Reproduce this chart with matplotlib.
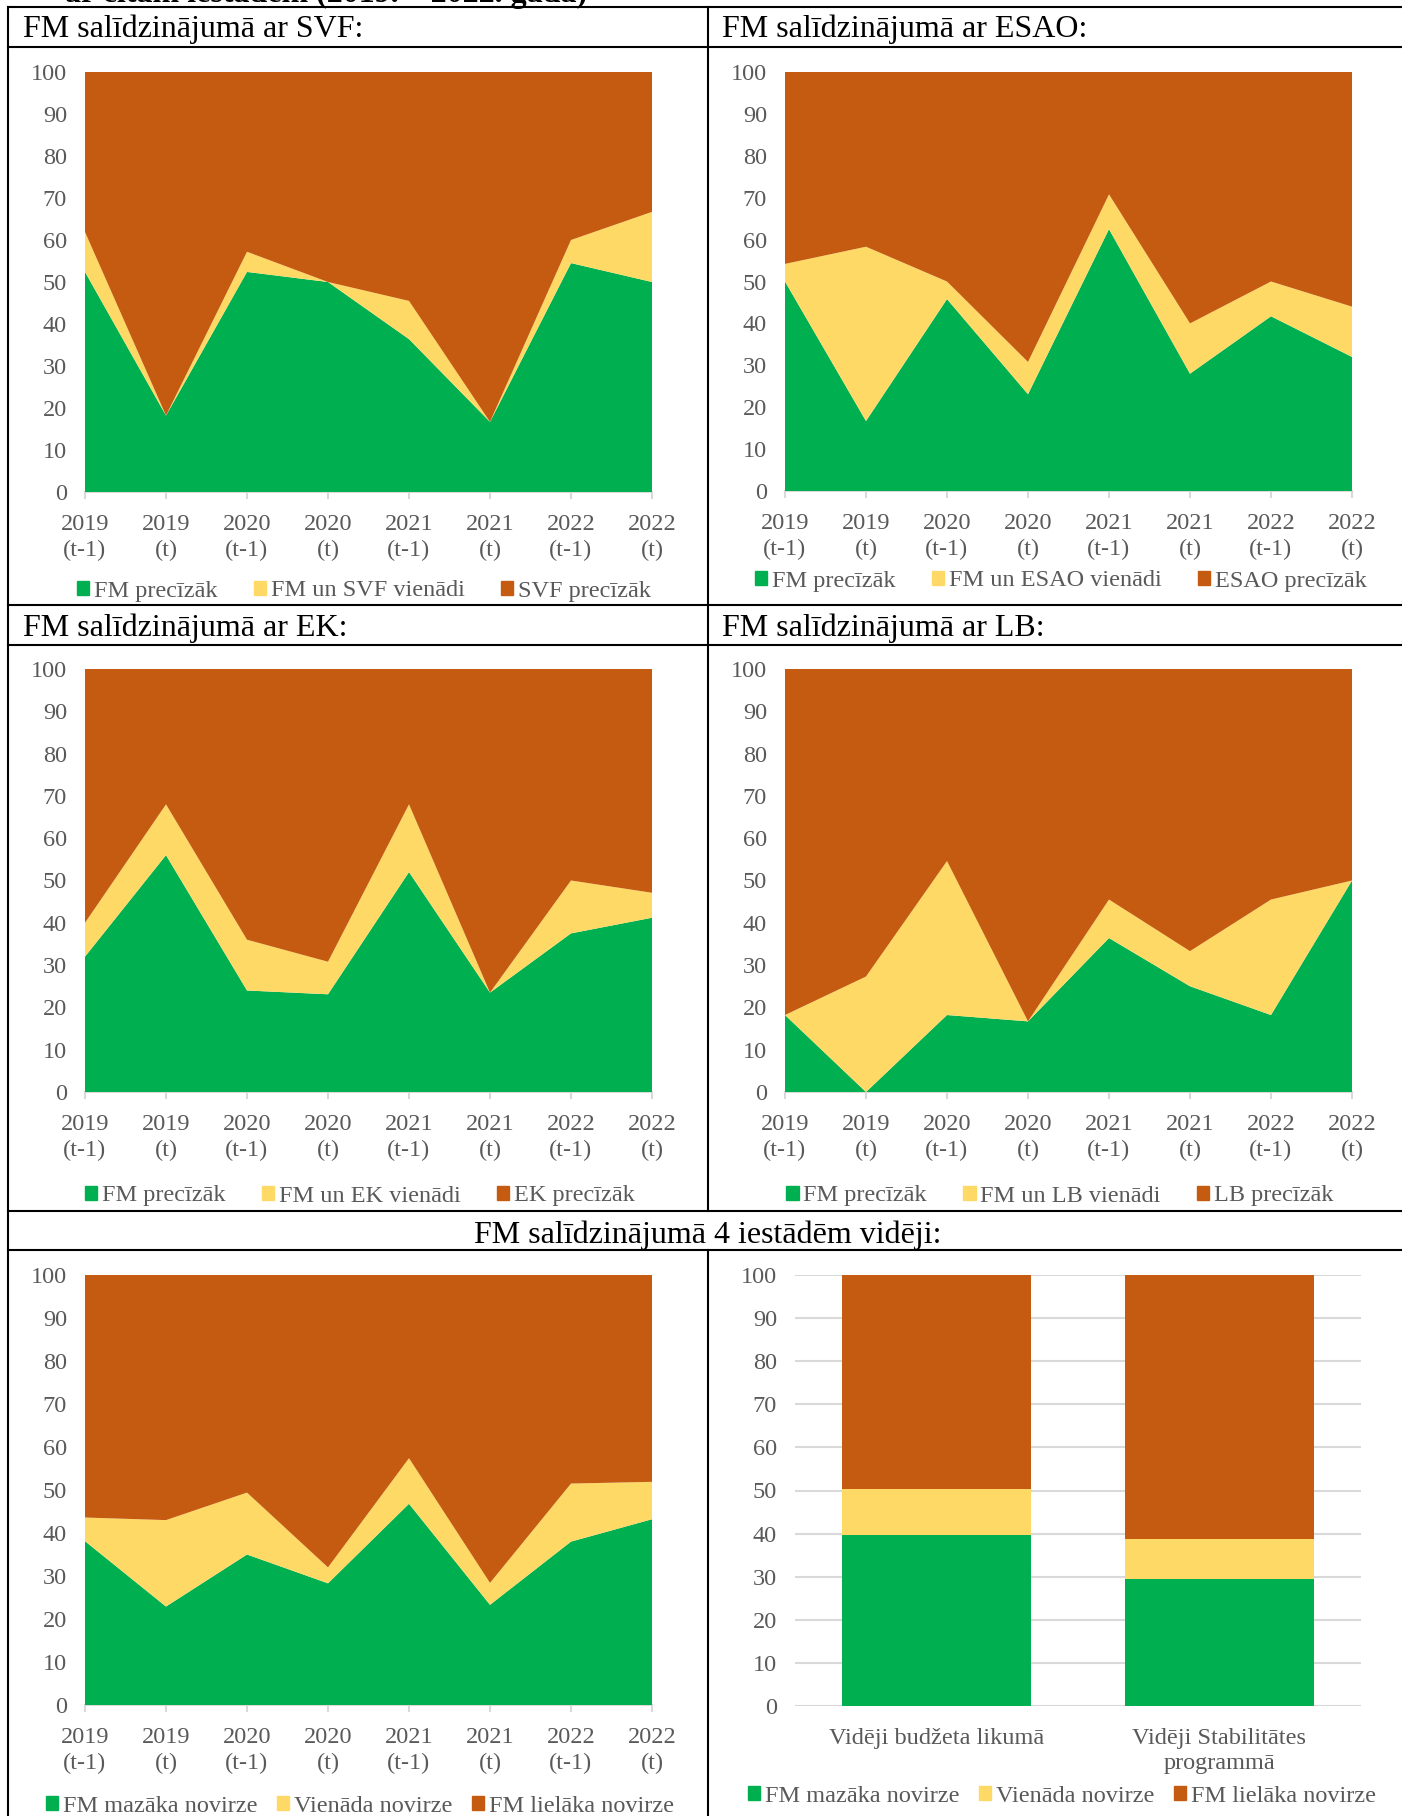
import matplotlib
matplotlib.use('Agg')
import matplotlib.pyplot as plt
import numpy as np
from matplotlib.lines import Line2D
from matplotlib.patches import Patch

plt.rcParams['font.family'] = ['Liberation Serif', 'DejaVu Serif']

# dati (procenti)
cats = ['2019\n(t-1)', '2019\n(t)', '2020\n(t-1)', '2020\n(t)',
        '2021\n(t-1)', '2021\n(t)', '2022\n(t-1)', '2022\n(t)']

svf_fm = [52.4, 18.2, 52.4, 50.0, 36.4, 16.7, 54.5, 50.0]
svf_same = [9.5, 0.0, 4.8, 0.0, 9.1, 0.0, 5.5, 16.7]

esao_fm = [50.0, 16.7, 45.8, 23.1, 62.5, 28.0, 41.7, 32.0]
esao_same = [4.2, 41.6, 4.2, 7.7, 8.3, 12.0, 8.3, 12.0]

ek_fm = [32.0, 56.0, 24.0, 23.1, 52.0, 23.5, 37.5, 41.2]
ek_same = [8.0, 12.0, 12.0, 7.7, 16.0, 0.0, 12.5, 5.9]

lb_fm = [18.2, 0.0, 18.2, 16.7, 36.4, 25.0, 18.2, 50.0]
lb_same = [0.0, 27.3, 36.4, 0.0, 9.1, 8.3, 27.3, 0.0]

avg_fm = [38.1, 22.9, 35.0, 28.3, 46.8, 23.3, 38.0, 43.2]
avg_same = [5.5, 20.1, 14.4, 3.7, 10.6, 5.1, 13.5, 8.7]

bar_cats = ['Vidēji budžeta likumā', 'Vidēji Stabilitātes\nprogrammā']
bar_fm = [39.6, 29.4]
bar_same = [10.8, 9.4]

GREEN = '#00B050'
YELLOW = '#FFD966'
ORANGE = '#C55A11'
GRAY_TXT = '#595959'
GRID = '#D9D9D9'
FS = 17.5
LSP = 1.28

W, H = 1402, 1816
fig = plt.figure(figsize=(W / 100, H / 100), dpi=100)


def px_axes(x0, y_top, x1, y_bot):
    return fig.add_axes([x0 / W, 1 - y_bot / H, (x1 - x0) / W, (y_bot - y_top) / H])


def hline(y, x0, x1):
    fig.add_artist(Line2D([x0 / W, x1 / W], [1 - y / H, 1 - y / H],
                          transform=fig.transFigure, color='black', lw=1.5))


def vline(x, y0, y1):
    fig.add_artist(Line2D([x / W, x / W], [1 - y0 / H, 1 - y1 / H],
                          transform=fig.transFigure, color='black', lw=1.5))


def add_legend(ax, labels, pos, colsp=1.5):
    cx, cy = pos
    handles = [Patch(color=GREEN, label=labels[0]),
               Patch(color=YELLOW, label=labels[1]),
               Patch(color=ORANGE, label=labels[2])]
    leg = ax.legend(handles=handles, loc='center', bbox_to_anchor=(cx / W, 1 - cy / H),
                    bbox_transform=fig.transFigure, ncol=3, frameon=False,
                    fontsize=FS, handlelength=0.5, handleheight=0.5,
                    handletextpad=0.2, columnspacing=colsp, borderaxespad=0)
    for t in leg.get_texts():
        t.set_color(GRAY_TXT)


def area_panel(rect, fm, same, labels, legend_pos, colsp=1.5):
    ax = px_axes(*rect)
    x = np.arange(len(cats))
    fm = np.array(fm)
    same = np.array(same)
    other = 100 - fm - same
    ax.stackplot(x, fm, same, other, colors=[GREEN, YELLOW, ORANGE], lw=0)
    ax.set_xlim(0, len(cats) - 1)
    ax.set_ylim(0, 100)
    ax.set_yticks(range(0, 101, 10))
    ax.set_xticks(x)
    ax.set_xticklabels(cats, linespacing=LSP)
    for s in ['top', 'right', 'left']:
        ax.spines[s].set_visible(False)
    ax.spines['bottom'].set_color(GRID)
    ax.spines['bottom'].set_linewidth(1.5)
    ax.spines['bottom'].set_zorder(0)
    ax.tick_params(axis='y', length=0, pad=13, labelsize=FS, labelcolor=GRAY_TXT)
    ax.tick_params(axis='x', length=5, width=1.5, color=GRID, pad=11,
                   labelsize=FS, labelcolor=GRAY_TXT)
    add_legend(ax, labels, legend_pos, colsp)
    return ax


# tabulas līnijas
hline(7, 8, W)
hline(47, 8, W)
hline(605, 8, W)
hline(645, 8, W)
hline(1211, 8, W)
hline(1250, 8, W)
vline(8, 7, H)
vline(708, 7, 1211)
vline(708, 1250, H)

# virsraksts (augšā nogriezts tāpat kā oriģinālā)
fig.text(65 / W, 1 - 2 / H, 'ar citām iestādēm (2019. – 2022. gadā)', fontsize=23,
         fontweight='bold', va='baseline', ha='left')

fig.text(23 / W, 1 - 29 / H, 'FM salīdzinājumā ar SVF:', fontsize=23, va='center')
fig.text(722 / W, 1 - 29 / H, 'FM salīdzinājumā ar ESAO:', fontsize=23, va='center')
fig.text(23 / W, 1 - 628 / H, 'FM salīdzinājumā ar EK:', fontsize=23, va='center')
fig.text(722 / W, 1 - 628 / H, 'FM salīdzinājumā ar LB:', fontsize=23, va='center')
fig.text(708 / W, 1 - 1235 / H, 'FM salīdzinājumā 4 iestādēm vidēji:', fontsize=23,
         va='center', ha='center')

area_panel((85, 72, 652, 492), svf_fm, svf_same,
           ['FM precīzāk', 'FM un SVF vienādi', 'SVF precīzāk'], (364, 591))
area_panel((785, 72, 1352, 491), esao_fm, esao_same,
           ['FM precīzāk', 'FM un ESAO vienādi', 'ESAO precīzāk'], (1061, 581))
area_panel((85, 669, 652, 1092), ek_fm, ek_same,
           ['FM precīzāk', 'FM un EK vienādi', 'EK precīzāk'], (360, 1196))
area_panel((785, 669, 1352, 1092), lb_fm, lb_same,
           ['FM precīzāk', 'FM un LB vienādi', 'LB precīzāk'], (1060, 1196))
area_panel((85, 1275, 652, 1705), avg_fm, avg_same,
           ['FM mazāka novirze', 'Vienāda novirze', 'FM lielāka novirze'], (360, 1806),
           colsp=0.8)

# stabiņu diagramma
ax = px_axes(795, 1275, 1361, 1706)
xb = np.arange(len(bar_cats))
bfm = np.array(bar_fm)
bsame = np.array(bar_same)
bother = 100 - bfm - bsame
bw = 0.665
ax.bar(xb, bfm, bw, color=GREEN, zorder=3)
ax.bar(xb, bsame, bw, bottom=bfm, color=YELLOW, zorder=3)
ax.bar(xb, bother, bw, bottom=bfm + bsame, color=ORANGE, zorder=3)
ax.set_xlim(-0.5, 1.5)
ax.set_ylim(0, 100)
ax.set_yticks(range(0, 101, 10))
ax.yaxis.grid(True, color=GRID, lw=1.5, zorder=0)
ax.set_axisbelow(True)
ax.set_xticks(xb)
ax.set_xticklabels(bar_cats, linespacing=LSP)
for s in ['top', 'right', 'left', 'bottom']:
    ax.spines[s].set_visible(False)
ax.tick_params(axis='y', length=0, pad=13, labelsize=FS, labelcolor=GRAY_TXT)
ax.tick_params(axis='x', length=0, pad=15.5, labelsize=FS, labelcolor=GRAY_TXT)
add_legend(ax, ['FM mazāka novirze', 'Vienāda novirze', 'FM lielāka novirze'], (1062, 1796),
           colsp=0.8)

plt.savefig('out.png', dpi=100)
plt.close()
